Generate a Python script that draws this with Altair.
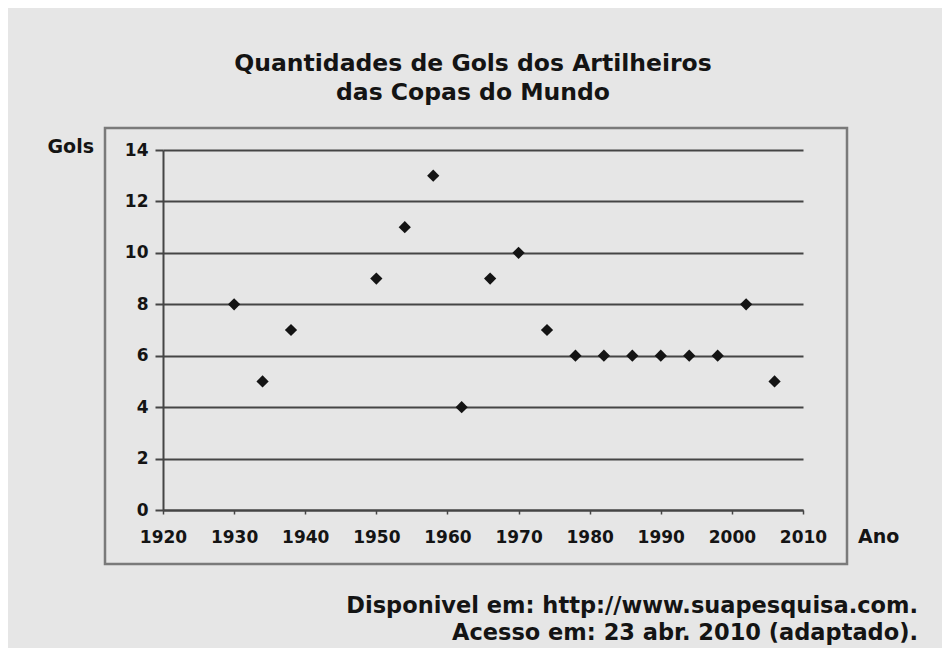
import altair as alt
import pandas as pd

anos = [1930, 1934, 1938, 1950, 1954, 1958, 1962, 1966, 1970, 1974,
        1978, 1982, 1986, 1990, 1994, 1998, 2002, 2006]
gols = [8, 5, 7, 9, 11, 13, 4, 9, 10, 7, 6, 6, 6, 6, 6, 6, 8, 5]
x_ticks = list(range(1920, 2011, 10))
y_ticks = list(range(0, 15, 2))
titulo = ["Quantidades de Gols dos Artilheiros", "das Copas do Mundo"]
fonte = ["Disponivel em: http://www.suapesquisa.com.", "Acesso em: 23 abr. 2010 (adaptado)."]

df = pd.DataFrame({"Ano": anos, "Gols": gols})
one = pd.DataFrame({"k": [0]})

BG = "#e6e6e6"
INK = "#141414"
LINE = "#454545"
FONT = "DejaVu Sans"

points = alt.Chart(df).mark_point(
    shape="diamond", filled=True, color=INK, size=150, opacity=1
).encode(
    x=alt.X("Ano:Q", scale=alt.Scale(domain=[1920, 2010], nice=False, zero=False),
            axis=alt.Axis(values=x_ticks, format="d", title=None, grid=False,
                          domain=True, domainColor=LINE, domainWidth=2,
                          ticks=True, tickSize=4, tickColor=LINE, tickWidth=1.5,
                          labelFlush=False, labelOverlap=False,
                          labelFont=FONT, labelFontSize=17, labelFontWeight="bold",
                          labelColor=INK, labelPadding=15)),
    y=alt.Y("Gols:Q", scale=alt.Scale(domain=[0, 14], nice=False),
            axis=alt.Axis(values=y_ticks, title=None, grid=True, gridColor=LINE,
                          gridWidth=2, gridOpacity=1,
                          domain=True, domainColor=LINE, domainWidth=2,
                          ticks=True, tickSize=8, tickColor=LINE, tickWidth=2,
                          labelFont=FONT, labelFontSize=17, labelFontWeight="bold",
                          labelColor=INK, labelPadding=7)),
)

frame = alt.Chart(one).mark_rect(filled=False, stroke="#7a7a7a", strokeWidth=2.5).encode(
    x=alt.value(-58), x2=alt.value(684), y=alt.value(-22), y2=alt.value(414)
)

title = alt.Chart(one).mark_text(
    text=titulo, font=FONT, fontSize=23.5, fontWeight="bold", color=INK,
    align="center", baseline="middle", lineHeight=29
).encode(x=alt.value(310), y=alt.value(-86))

gols_lbl = alt.Chart(one).mark_text(
    text="Gols", font=FONT, fontSize=19, fontWeight="bold", color=INK,
    align="right", baseline="middle"
).encode(x=alt.value(-69), y=alt.value(-3))

ano_lbl = alt.Chart(one).mark_text(
    text="Ano", font=FONT, fontSize=19, fontWeight="bold", color=INK,
    align="left", baseline="middle"
).encode(x=alt.value(695), y=alt.value(387))

source = alt.Chart(one).mark_text(
    text=fonte, font=FONT, fontSize=22.5, fontWeight="bold", color=INK,
    align="right", baseline="middle", lineHeight=27
).encode(x=alt.value(755), y=alt.value(456))

chart = alt.layer(frame, points, title, gols_lbl, ano_lbl, source).properties(
    width=640, height=360,
    autosize=alt.AutoSizeParams(type="none"),
    padding={"left": 155, "top": 142, "right": 139, "bottom": 138},
    background=BG,
).configure_view(stroke=None)

chart.save("out.html", embed_options={"renderer": "svg", "actions": False})
